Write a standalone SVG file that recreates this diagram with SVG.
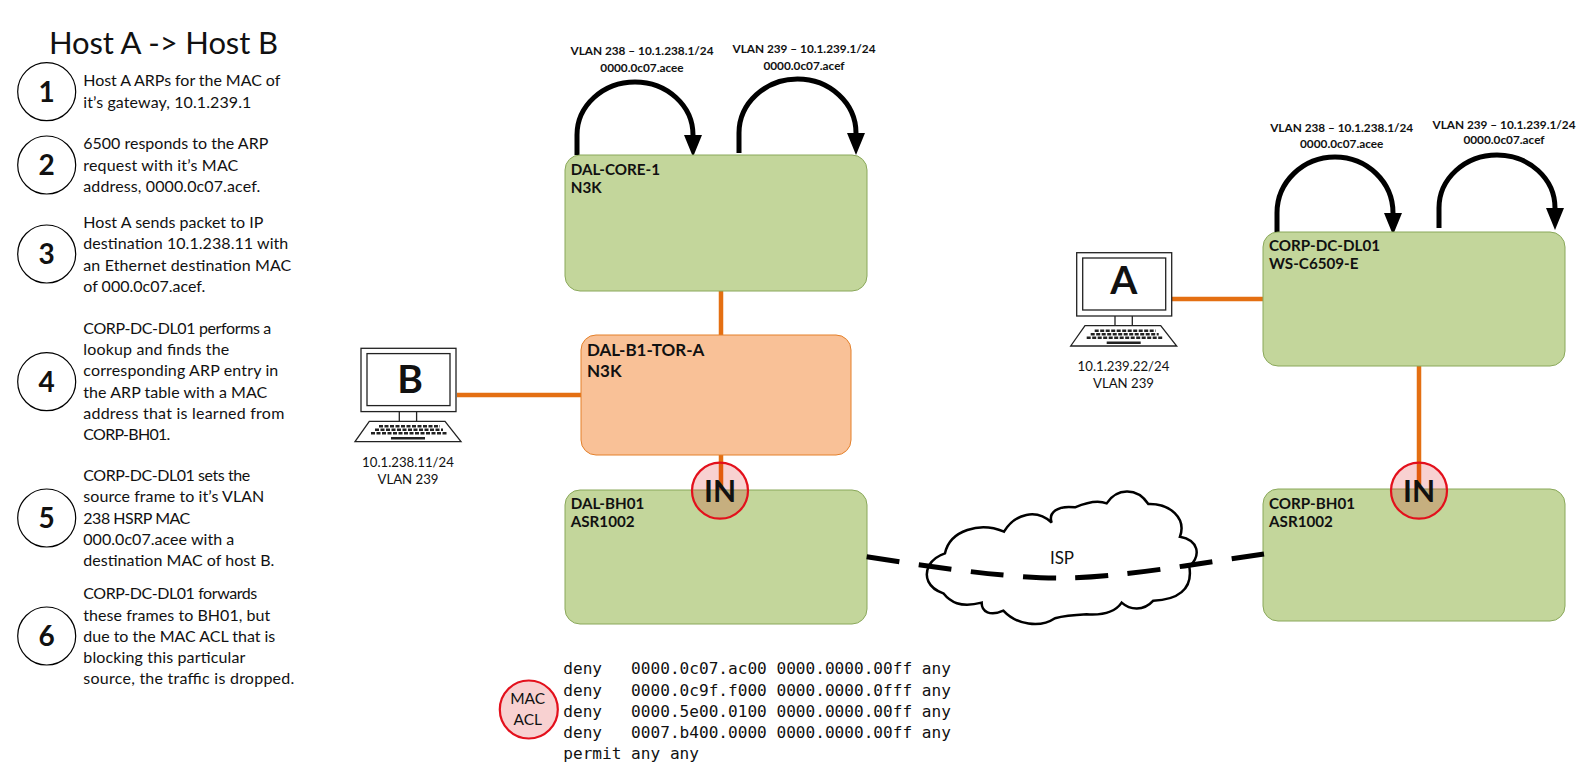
<svg xmlns="http://www.w3.org/2000/svg" width="1584" height="783" viewBox="0 0 1584 783">
<style>
text{font-family:Lato,"Open Sans",sans-serif;fill:#111}
.s{font-size:16px}
.n{font-size:28px;font-weight:700;text-anchor:middle}
.b{font-size:15.2px;font-weight:700}
.bo{font-size:17px;font-weight:700}
.h{font-size:11.8px;font-weight:700;text-anchor:middle}
.c{font-size:13.2px;text-anchor:middle}
.L{font-size:39px;font-weight:700;text-anchor:middle}
.I{font-size:30px;font-weight:700;text-anchor:middle}
.m{font-family:"DejaVu Sans Mono",monospace;font-size:16.1px;white-space:pre}
.g{fill:#c3d69b;stroke:#8aa85a;stroke-width:1}
.o{fill:#f9c197;stroke:#e4802a;stroke-width:1}
.l{fill:none;stroke:#e46f12;stroke-width:4.500}
.a{fill:none;stroke:#000;stroke-width:5}
.d{fill:none;stroke:#000;stroke-width:5;stroke-dasharray:33 19.500}
.t{fill:#fff;stroke:#000;stroke-width:1.200}
.p{fill:#fff;stroke:#222;stroke-width:1.300}
.r{fill:#d80000;fill-opacity:.18;stroke:#e3101c;stroke-width:2.200}
.k{fill:none;stroke:#222;stroke-width:1.300}
.ky{fill:none;stroke:#222;stroke-width:2.600;stroke-dasharray:4 1.500}
</style>
<defs>
<marker id="ah" markerUnits="userSpaceOnUse" markerWidth="24" markerHeight="18" refX="0" refY="9" orient="auto"><path d="M0 0L22 9L0 18Z" fill="#000"/></marker>
<g id="pc">
<rect width="95" height="63.300" class="p"/><rect x="6" y="5.300" width="83" height="52" class="p"/>
<path d="M38.300 63.300V73M55.600 63.300V73" class="k"/>
<path d="M8.300 73H84L100 93.300H-6Z" class="p"/>
<path d="M18 78H79M14 81.500H82M10 85H86" class="ky"/>
<path d="M30 90H64" stroke="#222" stroke-width="2.600"/>
</g>
</defs>
<g id="title"><text x="49" y="54" font-size="31" textLength="229">Host A -&gt; Host B</text></g>
<g id="steps">
<g id="step1"><circle cx="46.700" cy="91.700" r="29" class="t"/><text x="46.700" y="101.700" class="n">1</text><text class="s" x="83.300" y="86" textLength="197">Host A ARPs for the MAC of</text><text class="s" x="83.300" y="107.700" textLength="168">it’s gateway, 10.1.239.1</text></g>
<g id="step2"><circle cx="46.700" cy="165" r="29" class="t"/><text x="46.700" y="175" class="n">2</text><text class="s" x="83.300" y="149" textLength="185">6500 responds to the ARP</text><text class="s" x="83.300" y="171" textLength="155">request with it’s MAC</text><text class="s" x="83.300" y="192" textLength="177">address, 0000.0c07.acef.</text></g>
<g id="step3"><circle cx="46.700" cy="254" r="29" class="t"/><text x="46.700" y="264" class="n">3</text><text class="s" x="83.300" y="228" textLength="180">Host A sends packet to IP</text><text class="s" x="83.300" y="249" textLength="205">destination 10.1.238.11 with</text><text class="s" x="83.300" y="271" textLength="208">an Ethernet destination MAC</text><text class="s" x="83.300" y="292" textLength="122">of 000.0c07.acef.</text></g>
<g id="step4"><circle cx="46.700" cy="381.700" r="29" class="t"/><text x="46.700" y="391.700" class="n">4</text><text class="s" x="83.300" y="334" textLength="188">CORP-DC-DL01 performs a</text><text class="s" x="83.300" y="355" textLength="146">lookup and finds the</text><text class="s" x="83.300" y="376" textLength="195">corresponding ARP entry in</text><text class="s" x="83.300" y="398" textLength="184">the ARP table with a MAC</text><text class="s" x="83.300" y="419" textLength="201">address that is learned from</text><text class="s" x="83.300" y="440" textLength="87">CORP-BH01.</text></g>
<g id="step5"><circle cx="46.700" cy="518" r="29" class="t"/><text x="46.700" y="528" class="n">5</text><text class="s" x="83.300" y="481" textLength="167">CORP-DC-DL01 sets the</text><text class="s" x="83.300" y="502" textLength="181">source frame to it’s VLAN</text><text class="s" x="83.300" y="524" textLength="107">238 HSRP MAC</text><text class="s" x="83.300" y="545" textLength="151">000.0c07.acee with a</text><text class="s" x="83.300" y="566" textLength="191">destination MAC of host B.</text></g>
<g id="step6"><circle cx="46.700" cy="636" r="29" class="t"/><text x="46.700" y="646" class="n">6</text><text class="s" x="83.300" y="599" textLength="174">CORP-DC-DL01 forwards</text><text class="s" x="83.300" y="621" textLength="187">these frames to BH01, but</text><text class="s" x="83.300" y="642" textLength="192">due to the MAC ACL that is</text><text class="s" x="83.300" y="663" textLength="162">blocking this particular</text><text class="s" x="83.300" y="684" textLength="211">source, the traffic is dropped.</text></g>
</g>
<g id="connectors">
<path class="l" d="M721 291V335M721 455V491M457 395H581M1172 299H1264M1419 365V491"/>
<path class="a" marker-end="url(#ah)" d="M577 155V135A58 53 0 0 1 693 135"/>
<path class="a" marker-end="url(#ah)" d="M739 153V133A58.500 54 0 0 1 856 133"/>
<path class="a" marker-end="url(#ah)" d="M1277 232V213A58 56 0 0 1 1393 213"/>
<path class="a" marker-end="url(#ah)" d="M1439 228V208A58 53 0 0 1 1555 208"/>
</g>
<g id="dal-core-1"><rect x="565" y="155" width="302" height="136" rx="15" class="g"/><text class="b" x="570.700" y="175">DAL-CORE-1</text><text class="b" x="570.700" y="192.700">N3K</text></g>
<g id="dal-b1-tor-a"><rect x="581" y="335" width="270" height="120" rx="15" class="o"/><text class="bo" x="587" y="356">DAL-B1-TOR-A</text><text class="bo" x="587" y="377">N3K</text></g>
<g id="dal-bh01"><rect x="565" y="490" width="302" height="134" rx="15" class="g"/><text class="b" x="570.700" y="508.500">DAL-BH01</text><text class="b" x="570.700" y="526.500">ASR1002</text></g>
<g id="corp-dc-dl01"><rect x="1263" y="232" width="302" height="134" rx="15" class="g"/><text class="b" x="1269" y="250.700">CORP-DC-DL01</text><text class="b" x="1269" y="269">WS-C6509-E</text></g>
<g id="corp-bh01"><rect x="1263" y="489" width="302" height="132" rx="15" class="g"/><text class="b" x="1269" y="508.500">CORP-BH01</text><text class="b" x="1269" y="526.500">ASR1002</text></g>
<g id="isp"><path transform="translate(900 480) scale(.3333)" fill="#fff" stroke="#000" stroke-width="7.500" d="M88 255C100 235 120 225 135 220C150 150 240 125 312 155C345 100 410 85 455 128C445 100 470 75 525 82C565 65 600 62 620 70C650 25 710 20 745 72C810 70 860 115 840 170C895 180 905 225 868 260C880 330 830 360 760 362C730 395 690 390 665 368C640 405 590 405 560 403C520 405 490 408 465 415C420 445 350 435 310 392C270 410 245 395 245 368C180 385 150 365 130 340C85 325 70 290 88 255Z"/><text x="1062" y="564" font-size="17" text-anchor="middle">ISP</text></g>
<path id="wan-link" class="d" d="M866.700 556.700C950 570 1020 579 1066 578C1125 577 1200 563 1264 554"/>
<g id="in-1"><circle cx="720" cy="490.700" r="28" class="r"/><text x="720" y="501.700" class="I">IN</text></g>
<g id="in-2"><circle cx="1419" cy="490.700" r="28" class="r"/><text x="1419" y="501.700" class="I">IN</text></g>
<g id="host-b"><use href="#pc" x="361" y="348.300"/><text x="410" y="392.700" class="L">B</text><text class="c" x="408" y="467">10.1.238.11/24</text><text class="c" x="408" y="484">VLAN 239</text></g>
<g id="host-a"><use href="#pc" x="1076.700" y="252.700"/><text x="1123.800" y="294" class="L">A</text><text class="c" x="1123.500" y="371">10.1.239.22/24</text><text class="c" x="1123.500" y="388">VLAN 239</text></g>
<g id="labels">
<text class="h" x="642" y="55">VLAN 238 – 10.1.238.1/24</text><text class="h" x="642" y="72">0000.0c07.acee</text>
<text class="h" x="804" y="53">VLAN 239 – 10.1.239.1/24</text><text class="h" x="804" y="70">0000.0c07.acef</text>
<text class="h" x="1341.700" y="132">VLAN 238 – 10.1.238.1/24</text><text class="h" x="1341.700" y="148">0000.0c07.acee</text>
<text class="h" x="1504" y="129">VLAN 239 – 10.1.239.1/24</text><text class="h" x="1504" y="144">0000.0c07.acef</text>
</g>
<g id="mac-acl"><circle cx="528.800" cy="709.500" r="29" class="r"/><text x="527.700" y="704" font-size="15.500" text-anchor="middle">MAC</text><text x="527.700" y="725" font-size="15.500" text-anchor="middle">ACL</text>
<text class="m" x="563.300" y="674">deny   0000.0c07.ac00 0000.0000.00ff any</text><text class="m" x="563.300" y="696">deny   0000.0c9f.f000 0000.0000.0fff any</text><text class="m" x="563.300" y="717">deny   0000.5e00.0100 0000.0000.00ff any</text><text class="m" x="563.300" y="738">deny   0007.b400.0000 0000.0000.00ff any</text><text class="m" x="563.300" y="759">permit any any</text></g>
</svg>
